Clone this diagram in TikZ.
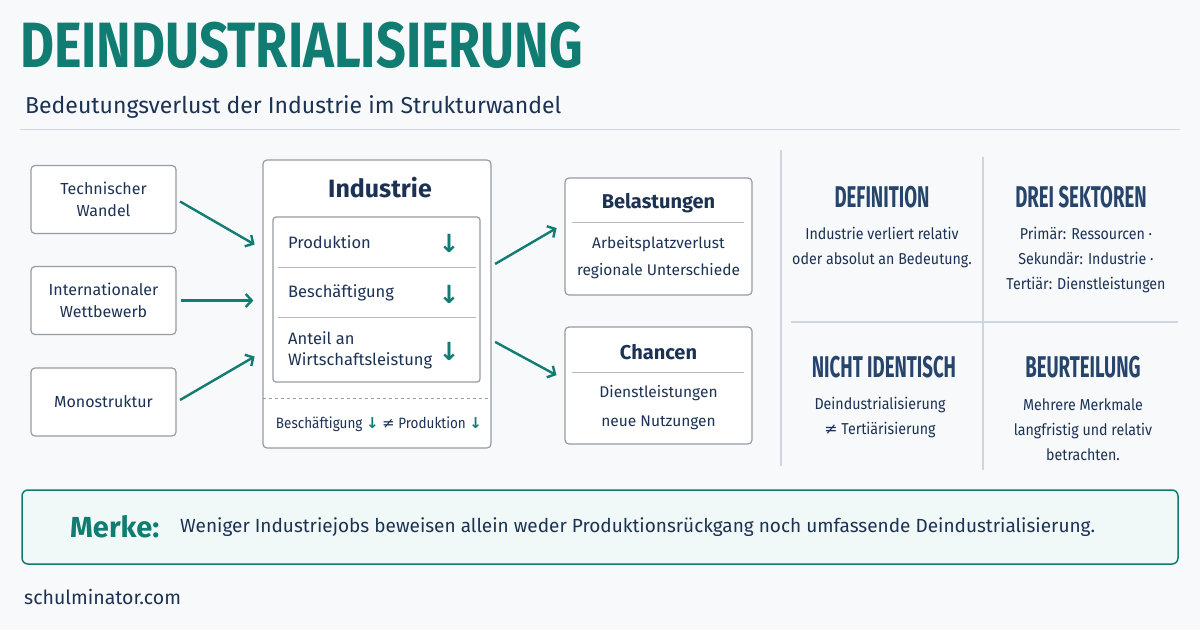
\documentclass[tikz,border=0pt]{standalone}
\usepackage{fontspec}
\setmainfont{Fira Sans}
\newfontfamily\narrowfont{Fira Sans}[FakeStretch=0.9]
\newfontfamily\headfont{Fira Sans}[FakeStretch=0.62]
\newfontfamily\titlefont{Fira Sans}[FakeStretch=0.815]
\newfontfamily\symfont{DejaVu Sans}
\usepackage{tikz}
\usetikzlibrary{arrows.meta, positioning, calc}
\definecolor{teal}{RGB}{16,124,114}
\definecolor{ink}{RGB}{28,50,84}
\definecolor{headink}{RGB}{38,68,108}
\definecolor{frame}{RGB}{150,156,164}
\definecolor{rule}{RGB}{206,213,222}
\definecolor{paper}{RGB}{247,249,251}
\definecolor{merkebg}{RGB}{240,249,247}
\newcommand{\dn}{{\symfont\bfseries\color{teal}↓}}

\begin{document}
\begin{tikzpicture}[
    x=1pt, y=-1pt,
    every node/.style={text=ink, inner sep=0pt},
    cause/.style={draw=frame, line width=1.2pt, rounded corners=4pt, fill=white, minimum width=145pt, minimum height=68pt, align=center, font=\fontsize{16}{22}\selectfont},
    outcome/.style={draw=frame, line width=1.2pt, rounded corners=4pt, fill=white, minimum width=187pt, minimum height=117pt},
    rowlabel/.style={anchor=west, align=left, font=\fontsize{16.5}{21}\selectfont},
    quad/.style={text=headink, font=\headfont\bfseries\fontsize{30}{32}\selectfont},
    quadtext/.style={align=center, font=\narrowfont\fontsize{15.8}{25}\selectfont},
    flow/.style={draw=teal, line width=2.4pt, -{Straight Barb[length=6pt,width=13pt]}, shorten <=4pt, shorten >=9pt}
]
\useasboundingbox (0,0) rectangle (1200,630);
\fill[paper] (0,0) rectangle (1200,630);

% title
\node[anchor=base west, text=teal, font=\titlefont\bfseries\fontsize{64}{64}\selectfont] (title) at (20,67) {DEINDUSTRIALISIERUNG};
\node[anchor=base west, font=\fontsize{23}{26}\selectfont] (subtitle) at (25,113) {Bedeutungsverlust der Industrie im Strukturwandel};
\draw[rule, line width=1pt] (20,129) -- (1180,129);

% causes
\node[cause] (tech) at (103.5,199.5) {Technischer\\Wandel};
\node[cause] (wett) at (103.5,300.5) {Internationaler\\Wettbewerb};
\node[cause] (mono) at (103.5,402) {Monostruktur};

% industry
\node[draw=frame, line width=1.2pt, rounded corners=4pt, fill=white, minimum width=228pt, minimum height=288pt] (ind) at (377,304) {};
\node[font=\bfseries\fontsize{25}{27}\selectfont] (indtitle) at (380,188) {Industrie};
\node[draw=frame, line width=1.2pt, rounded corners=3pt, minimum width=207pt, minimum height=165pt] (kpi) at (376.5,299.5) {};
\draw[frame!70, line width=1pt] (278,267) -- (476,267);
\draw[frame!70, line width=1pt] (278,317) -- (476,317);
\node[rowlabel] (prod) at (288,242) {Produktion};
\node[rowlabel] (besch) at (288,293) {Beschäftigung};
\node[rowlabel] (anteil) at (288,350) {Anteil an\\Wirtschaftsleistung};
\foreach \y in {243,294,351}
  \node[font=\fontsize{25}{25}\selectfont] at (449,\y) {\dn};
\draw[frame, dashed, line width=1pt] (263,398) -- (491,398);
\node[font=\narrowfont\fontsize{15}{18}\selectfont] (note) at (379,424) {Beschäftigung \dn\ {\symfont≠} Produktion \dn};

% outcomes
\node[outcome] (bel) at (658.5,236.5) {};
\node[font=\bfseries\fontsize{20}{22}\selectfont] at (658.5,203) {Belastungen};
\draw[frame!70, line width=1pt] (572,222) -- (744,222);
\node[align=center, font=\fontsize{15.5}{27}\selectfont] at (658.5,258) {Arbeitsplatzverlust\\regionale Unterschiede};
\node[outcome] (chance) at (658.5,385.5) {};
\node[font=\bfseries\fontsize{20}{22}\selectfont] at (658.5,352) {Chancen};
\draw[frame!70, line width=1pt] (572,372) -- (744,372);
\node[align=center, font=\fontsize{15.5}{29}\selectfont] at (658.5,408) {Dienstleistungen\\neue Nutzungen};

% connectors
\draw[flow] (tech.east) -- ($(ind.west)+(0,-55)$);
\draw[flow] (wett.east) -- (ind.west |- wett.east);
\draw[flow] (mono.east) -- ($(ind.west)+(0,48)$);
\draw[flow] ($(ind.east)+(0,-38)$) -- ($(bel.west)+(0,-13)$);
\draw[flow] ($(ind.east)+(0,36)$) -- ($(chance.west)+(0,-6)$);

% facts grid
\draw[rule, line width=1.5pt] (781,150) -- (781,466);
\draw[rule, line width=1.5pt] (983,157) -- (983,470);
\draw[rule, line width=1.5pt] (791,322) -- (1178,322);
\node[quad] (def) at (882,197) {DEFINITION};
\node[quadtext] at (882,248) {Industrie verliert relativ\\oder absolut an Bedeutung.};
\node[quad] (sek) at (1081,197) {DREI SEKTOREN};
\node[quadtext] at (1086,260) {Primär: Ressourcen ·\\Sekundär: Industrie ·\\Tertiär: Dienstleistungen};
\node[quad] (ident) at (884,367) {NICHT IDENTISCH};
\node[quadtext] at (880,418) {Deindustrialisierung\\{\symfont≠} Tertiärisierung};
\node[quad] (beur) at (1083,367) {BEURTEILUNG};
\node[quadtext] at (1083,430) {Mehrere Merkmale\\langfristig und relativ\\betrachten.};

% merke
\node[draw=teal, line width=1.5pt, rounded corners=6pt, fill=merkebg, minimum width=1156pt, minimum height=74pt] (merke) at (600,527) {};
\node[anchor=west, text=teal, font=\bfseries\fontsize{29}{30}\selectfont] (merkelabel) at (70,527) {Merke:};
\node[anchor=west, font=\fontsize{19}{22}\selectfont] (merketext) at (180,527) {Weniger Industriejobs beweisen allein weder Produktionsrückgang noch umfassende Deindustrialisierung.};

\node[anchor=west, font=\fontsize{19.5}{21}\selectfont] (footer) at (24,597) {schulminator.com};
\end{tikzpicture}
\end{document}
